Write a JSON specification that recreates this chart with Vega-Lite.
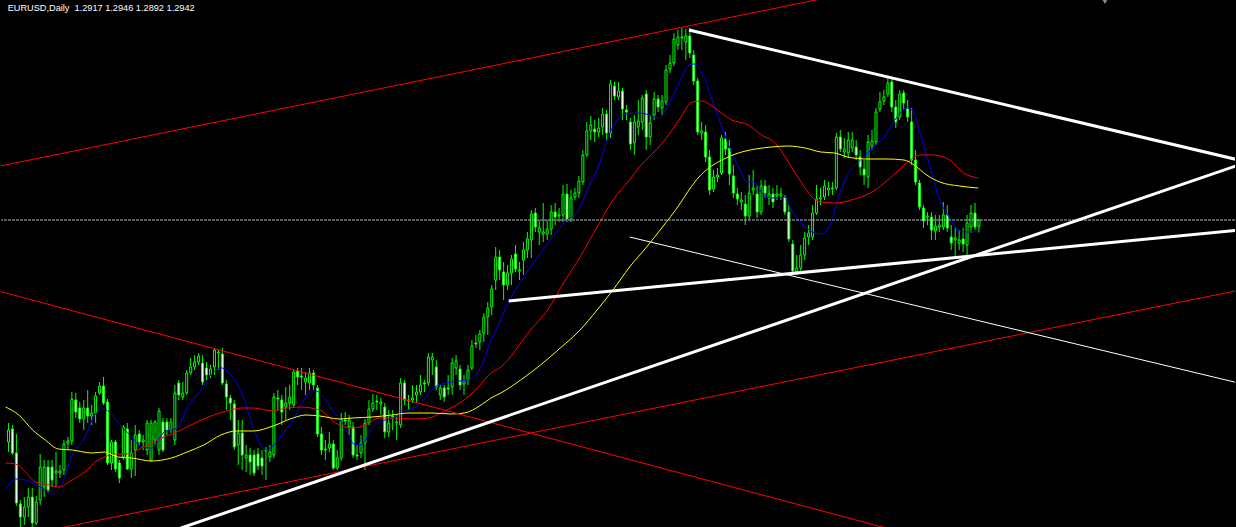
{
"$schema": "https://vega.github.io/schema/vega-lite/v6.json",
"width": 1236, "height": 527,
"autosize": {"type": "fit", "contains": "padding"},
"padding": 0,
"background": "#000000",
"config": {"view": {"stroke": null}},
"datasets": {
"bars": [
{"i":0,"o":1.2054,"h":1.2130,"l":1.2014,"c":1.2102},
{"i":1,"o":1.2106,"h":1.2122,"l":1.2002,"c":1.2010},
{"i":2,"o":1.2010,"h":1.2086,"l":1.1798,"c":1.1810},
{"i":3,"o":1.1806,"h":1.1822,"l":1.1714,"c":1.1754},
{"i":4,"o":1.1754,"h":1.1834,"l":1.1722,"c":1.1794},
{"i":5,"o":1.1794,"h":1.1870,"l":1.1754,"c":1.1834},
{"i":6,"o":1.1834,"h":1.1870,"l":1.1714,"c":1.1730},
{"i":7,"o":1.1730,"h":1.1838,"l":1.1722,"c":1.1814},
{"i":8,"o":1.1822,"h":1.2006,"l":1.1802,"c":1.1954},
{"i":9,"o":1.1874,"h":1.1982,"l":1.1834,"c":1.1954},
{"i":10,"o":1.1954,"h":1.1982,"l":1.1850,"c":1.1862},
{"i":11,"o":1.1954,"h":1.1982,"l":1.1874,"c":1.1902},
{"i":12,"o":1.1930,"h":1.2014,"l":1.1874,"c":1.1938},
{"i":13,"o":1.1930,"h":1.1962,"l":1.1910,"c":1.1938},
{"i":14,"o":1.1942,"h":1.2062,"l":1.1922,"c":1.2046},
{"i":15,"o":1.2050,"h":1.2074,"l":1.2022,"c":1.2058},
{"i":16,"o":1.2058,"h":1.2254,"l":1.2042,"c":1.2226},
{"i":17,"o":1.2222,"h":1.2250,"l":1.2150,"c":1.2174},
{"i":18,"o":1.2190,"h":1.2214,"l":1.2130,"c":1.2146},
{"i":19,"o":1.2146,"h":1.2222,"l":1.2102,"c":1.2190},
{"i":20,"o":1.2190,"h":1.2262,"l":1.2130,"c":1.2158},
{"i":21,"o":1.2158,"h":1.2202,"l":1.2122,"c":1.2170},
{"i":22,"o":1.2170,"h":1.2254,"l":1.2130,"c":1.2238},
{"i":23,"o":1.2250,"h":1.2294,"l":1.2242,"c":1.2278},
{"i":24,"o":1.2278,"h":1.2314,"l":1.2202,"c":1.2210},
{"i":25,"o":1.2214,"h":1.2226,"l":1.1962,"c":1.1970},
{"i":26,"o":1.1970,"h":1.2062,"l":1.1942,"c":1.2054},
{"i":27,"o":1.2054,"h":1.2062,"l":1.1934,"c":1.1946},
{"i":28,"o":1.1970,"h":1.1982,"l":1.1890,"c":1.1910},
{"i":29,"o":1.1994,"h":1.2122,"l":1.1982,"c":1.2114},
{"i":30,"o":1.2106,"h":1.2130,"l":1.1942,"c":1.1946},
{"i":31,"o":1.1946,"h":1.2062,"l":1.1910,"c":1.2010},
{"i":32,"o":1.2022,"h":1.2122,"l":1.1918,"c":1.2082},
{"i":33,"o":1.2086,"h":1.2102,"l":1.2042,"c":1.2054},
{"i":34,"o":1.2054,"h":1.2082,"l":1.2022,"c":1.2062},
{"i":35,"o":1.2022,"h":1.2142,"l":1.2002,"c":1.2130},
{"i":36,"o":1.1982,"h":1.2142,"l":1.1974,"c":1.2130},
{"i":37,"o":1.2062,"h":1.2142,"l":1.2042,"c":1.2134},
{"i":38,"o":1.2022,"h":1.2190,"l":1.2002,"c":1.2178},
{"i":39,"o":1.2134,"h":1.2150,"l":1.2014,"c":1.2022},
{"i":40,"o":1.2134,"h":1.2150,"l":1.2082,"c":1.2102},
{"i":41,"o":1.2102,"h":1.2150,"l":1.2090,"c":1.2134},
{"i":42,"o":1.2062,"h":1.2282,"l":1.2042,"c":1.2250},
{"i":43,"o":1.2290,"h":1.2302,"l":1.2222,"c":1.2242},
{"i":44,"o":1.2234,"h":1.2294,"l":1.2222,"c":1.2250},
{"i":45,"o":1.2250,"h":1.2342,"l":1.2242,"c":1.2330},
{"i":46,"o":1.2330,"h":1.2390,"l":1.2322,"c":1.2354},
{"i":47,"o":1.2354,"h":1.2402,"l":1.2342,"c":1.2374},
{"i":48,"o":1.2374,"h":1.2410,"l":1.2362,"c":1.2398},
{"i":49,"o":1.2370,"h":1.2402,"l":1.2282,"c":1.2294},
{"i":50,"o":1.2350,"h":1.2374,"l":1.2302,"c":1.2322},
{"i":51,"o":1.2322,"h":1.2362,"l":1.2310,"c":1.2346},
{"i":52,"o":1.2354,"h":1.2430,"l":1.2322,"c":1.2422},
{"i":53,"o":1.2410,"h":1.2422,"l":1.2342,"c":1.2414},
{"i":54,"o":1.2406,"h":1.2430,"l":1.2282,"c":1.2290},
{"i":55,"o":1.2286,"h":1.2302,"l":1.2182,"c":1.2234},
{"i":56,"o":1.2230,"h":1.2242,"l":1.2142,"c":1.2210},
{"i":57,"o":1.2206,"h":1.2222,"l":1.2022,"c":1.2034},
{"i":58,"o":1.2042,"h":1.2142,"l":1.1962,"c":1.2090},
{"i":59,"o":1.2090,"h":1.2142,"l":1.1942,"c":1.2002},
{"i":60,"o":1.1990,"h":1.2042,"l":1.1934,"c":1.2002},
{"i":61,"o":1.2002,"h":1.2030,"l":1.1922,"c":1.1974},
{"i":62,"o":1.2002,"h":1.2022,"l":1.1918,"c":1.1930},
{"i":63,"o":1.2006,"h":1.2030,"l":1.1942,"c":1.1958},
{"i":64,"o":1.1990,"h":1.2022,"l":1.1922,"c":1.1958},
{"i":65,"o":1.2018,"h":1.2034,"l":1.1902,"c":1.2022},
{"i":66,"o":1.1994,"h":1.2042,"l":1.1974,"c":1.2014},
{"i":67,"o":1.2002,"h":1.2250,"l":1.1990,"c":1.2234},
{"i":68,"o":1.2230,"h":1.2262,"l":1.2182,"c":1.2226},
{"i":69,"o":1.2222,"h":1.2242,"l":1.2122,"c":1.2174},
{"i":70,"o":1.2194,"h":1.2274,"l":1.2142,"c":1.2210},
{"i":71,"o":1.2210,"h":1.2282,"l":1.2182,"c":1.2234},
{"i":72,"o":1.2202,"h":1.2342,"l":1.2190,"c":1.2334},
{"i":73,"o":1.2338,"h":1.2350,"l":1.2282,"c":1.2314},
{"i":74,"o":1.2318,"h":1.2350,"l":1.2262,"c":1.2314},
{"i":75,"o":1.2294,"h":1.2334,"l":1.2242,"c":1.2310},
{"i":76,"o":1.2290,"h":1.2350,"l":1.2262,"c":1.2330},
{"i":77,"o":1.2330,"h":1.2342,"l":1.2262,"c":1.2282},
{"i":78,"o":1.2270,"h":1.2282,"l":1.2074,"c":1.2086},
{"i":79,"o":1.2086,"h":1.2114,"l":1.2002,"c":1.2022},
{"i":80,"o":1.2026,"h":1.2062,"l":1.1982,"c":1.2022},
{"i":81,"o":1.2030,"h":1.2094,"l":1.2014,"c":1.2046},
{"i":82,"o":1.2046,"h":1.2062,"l":1.1942,"c":1.1950},
{"i":83,"o":1.1950,"h":1.2022,"l":1.1942,"c":1.1990},
{"i":84,"o":1.1990,"h":1.2170,"l":1.1978,"c":1.2142},
{"i":85,"o":1.2142,"h":1.2174,"l":1.2122,"c":1.2138},
{"i":86,"o":1.2114,"h":1.2162,"l":1.2082,"c":1.2142},
{"i":87,"o":1.2114,"h":1.2134,"l":1.1990,"c":1.2002},
{"i":88,"o":1.2002,"h":1.2042,"l":1.1982,"c":1.1998},
{"i":89,"o":1.2010,"h":1.2082,"l":1.1990,"c":1.2050},
{"i":90,"o":1.2050,"h":1.2146,"l":1.1942,"c":1.2130},
{"i":91,"o":1.2130,"h":1.2222,"l":1.2122,"c":1.2186},
{"i":92,"o":1.2186,"h":1.2246,"l":1.2174,"c":1.2210},
{"i":93,"o":1.2218,"h":1.2242,"l":1.2182,"c":1.2214},
{"i":94,"o":1.2206,"h":1.2230,"l":1.2162,"c":1.2214},
{"i":95,"o":1.2194,"h":1.2210,"l":1.2070,"c":1.2094},
{"i":96,"o":1.2094,"h":1.2182,"l":1.2074,"c":1.2130},
{"i":97,"o":1.2158,"h":1.2182,"l":1.2102,"c":1.2154},
{"i":98,"o":1.2130,"h":1.2162,"l":1.2062,"c":1.2134},
{"i":99,"o":1.2122,"h":1.2310,"l":1.2110,"c":1.2290},
{"i":100,"o":1.2290,"h":1.2302,"l":1.2202,"c":1.2222},
{"i":101,"o":1.2222,"h":1.2242,"l":1.2182,"c":1.2218},
{"i":102,"o":1.2222,"h":1.2282,"l":1.2210,"c":1.2230},
{"i":103,"o":1.2242,"h":1.2282,"l":1.2210,"c":1.2254},
{"i":104,"o":1.2254,"h":1.2322,"l":1.2242,"c":1.2282},
{"i":105,"o":1.2290,"h":1.2302,"l":1.2254,"c":1.2286},
{"i":106,"o":1.2290,"h":1.2410,"l":1.2278,"c":1.2394},
{"i":107,"o":1.2382,"h":1.2410,"l":1.2322,"c":1.2394},
{"i":108,"o":1.2354,"h":1.2382,"l":1.2262,"c":1.2274},
{"i":109,"o":1.2242,"h":1.2282,"l":1.2222,"c":1.2270},
{"i":110,"o":1.2270,"h":1.2282,"l":1.2214,"c":1.2234},
{"i":111,"o":1.2270,"h":1.2322,"l":1.2242,"c":1.2266},
{"i":112,"o":1.2274,"h":1.2390,"l":1.2242,"c":1.2370},
{"i":113,"o":1.2350,"h":1.2402,"l":1.2322,"c":1.2378},
{"i":114,"o":1.2346,"h":1.2362,"l":1.2262,"c":1.2282},
{"i":115,"o":1.2286,"h":1.2322,"l":1.2242,"c":1.2298},
{"i":116,"o":1.2302,"h":1.2362,"l":1.2282,"c":1.2342},
{"i":117,"o":1.2350,"h":1.2462,"l":1.2342,"c":1.2438},
{"i":118,"o":1.2450,"h":1.2482,"l":1.2430,"c":1.2446},
{"i":119,"o":1.2454,"h":1.2502,"l":1.2422,"c":1.2486},
{"i":120,"o":1.2490,"h":1.2570,"l":1.2454,"c":1.2554},
{"i":121,"o":1.2554,"h":1.2614,"l":1.2482,"c":1.2590},
{"i":122,"o":1.2594,"h":1.2682,"l":1.2562,"c":1.2666},
{"i":123,"o":1.2702,"h":1.2834,"l":1.2662,"c":1.2794},
{"i":124,"o":1.2794,"h":1.2822,"l":1.2702,"c":1.2742},
{"i":125,"o":1.2734,"h":1.2774,"l":1.2622,"c":1.2682},
{"i":126,"o":1.2682,"h":1.2762,"l":1.2662,"c":1.2730},
{"i":127,"o":1.2730,"h":1.2802,"l":1.2682,"c":1.2786},
{"i":128,"o":1.2806,"h":1.2842,"l":1.2734,"c":1.2746},
{"i":129,"o":1.2738,"h":1.2774,"l":1.2702,"c":1.2742},
{"i":130,"o":1.2782,"h":1.2854,"l":1.2722,"c":1.2822},
{"i":131,"o":1.2822,"h":1.2894,"l":1.2790,"c":1.2866},
{"i":132,"o":1.2862,"h":1.2982,"l":1.2790,"c":1.2966},
{"i":133,"o":1.2970,"h":1.2990,"l":1.2894,"c":1.2914},
{"i":134,"o":1.2894,"h":1.2942,"l":1.2842,"c":1.2910},
{"i":135,"o":1.2886,"h":1.3010,"l":1.2854,"c":1.2894},
{"i":136,"o":1.2886,"h":1.2942,"l":1.2862,"c":1.2906},
{"i":137,"o":1.2906,"h":1.3002,"l":1.2882,"c":1.2974},
{"i":138,"o":1.2974,"h":1.3010,"l":1.2922,"c":1.2954},
{"i":139,"o":1.2958,"h":1.2990,"l":1.2934,"c":1.2962},
{"i":140,"o":1.2962,"h":1.3082,"l":1.2934,"c":1.3046},
{"i":141,"o":1.3046,"h":1.3086,"l":1.2934,"c":1.2946},
{"i":142,"o":1.2946,"h":1.3062,"l":1.2934,"c":1.3030},
{"i":143,"o":1.3034,"h":1.3070,"l":1.3022,"c":1.3050},
{"i":144,"o":1.3050,"h":1.3118,"l":1.3030,"c":1.3098},
{"i":145,"o":1.3094,"h":1.3222,"l":1.3082,"c":1.3202},
{"i":146,"o":1.3202,"h":1.3334,"l":1.3194,"c":1.3298},
{"i":147,"o":1.3298,"h":1.3358,"l":1.3262,"c":1.3322},
{"i":148,"o":1.3306,"h":1.3342,"l":1.3254,"c":1.3294},
{"i":149,"o":1.3294,"h":1.3350,"l":1.3274,"c":1.3310},
{"i":150,"o":1.3314,"h":1.3390,"l":1.3282,"c":1.3366},
{"i":151,"o":1.3366,"h":1.3382,"l":1.3262,"c":1.3290},
{"i":152,"o":1.3290,"h":1.3502,"l":1.3270,"c":1.3486},
{"i":153,"o":1.3478,"h":1.3494,"l":1.3422,"c":1.3438},
{"i":154,"o":1.3434,"h":1.3494,"l":1.3422,"c":1.3458},
{"i":155,"o":1.3458,"h":1.3470,"l":1.3342,"c":1.3386},
{"i":156,"o":1.3382,"h":1.3402,"l":1.3342,"c":1.3374},
{"i":157,"o":1.3334,"h":1.3350,"l":1.3222,"c":1.3246},
{"i":158,"o":1.3250,"h":1.3362,"l":1.3202,"c":1.3334},
{"i":159,"o":1.3314,"h":1.3422,"l":1.3282,"c":1.3338},
{"i":160,"o":1.3334,"h":1.3442,"l":1.3302,"c":1.3430},
{"i":161,"o":1.3446,"h":1.3462,"l":1.3222,"c":1.3274},
{"i":162,"o":1.3274,"h":1.3362,"l":1.3242,"c":1.3330},
{"i":163,"o":1.3362,"h":1.3454,"l":1.3342,"c":1.3426},
{"i":164,"o":1.3426,"h":1.3442,"l":1.3374,"c":1.3394},
{"i":165,"o":1.3390,"h":1.3442,"l":1.3362,"c":1.3418},
{"i":166,"o":1.3414,"h":1.3562,"l":1.3402,"c":1.3542},
{"i":167,"o":1.3546,"h":1.3602,"l":1.3530,"c":1.3570},
{"i":168,"o":1.3570,"h":1.3690,"l":1.3558,"c":1.3666},
{"i":169,"o":1.3642,"h":1.3702,"l":1.3622,"c":1.3674},
{"i":170,"o":1.3670,"h":1.3710,"l":1.3622,"c":1.3674},
{"i":171,"o":1.3654,"h":1.3706,"l":1.3582,"c":1.3678},
{"i":172,"o":1.3678,"h":1.3710,"l":1.3590,"c":1.3610},
{"i":173,"o":1.3602,"h":1.3622,"l":1.3482,"c":1.3498},
{"i":174,"o":1.3498,"h":1.3510,"l":1.3282,"c":1.3294},
{"i":175,"o":1.3290,"h":1.3334,"l":1.3262,"c":1.3298},
{"i":176,"o":1.3294,"h":1.3322,"l":1.3174,"c":1.3194},
{"i":177,"o":1.3194,"h":1.3222,"l":1.3042,"c":1.3062},
{"i":178,"o":1.3066,"h":1.3142,"l":1.3054,"c":1.3114},
{"i":179,"o":1.3114,"h":1.3150,"l":1.3094,"c":1.3122},
{"i":180,"o":1.3130,"h":1.3282,"l":1.3122,"c":1.3270},
{"i":181,"o":1.3266,"h":1.3294,"l":1.3202,"c":1.3226},
{"i":182,"o":1.3230,"h":1.3262,"l":1.3082,"c":1.3126},
{"i":183,"o":1.3118,"h":1.3162,"l":1.3030,"c":1.3050},
{"i":184,"o":1.3046,"h":1.3070,"l":1.3002,"c":1.3026},
{"i":185,"o":1.3014,"h":1.3054,"l":1.2982,"c":1.3022},
{"i":186,"o":1.3006,"h":1.3042,"l":1.2922,"c":1.2958},
{"i":187,"o":1.2958,"h":1.3122,"l":1.2942,"c":1.3050},
{"i":188,"o":1.3062,"h":1.3142,"l":1.3042,"c":1.3070},
{"i":189,"o":1.3046,"h":1.3082,"l":1.2950,"c":1.2974},
{"i":190,"o":1.2974,"h":1.3102,"l":1.2962,"c":1.3078},
{"i":191,"o":1.3078,"h":1.3102,"l":1.3030,"c":1.3050},
{"i":192,"o":1.3030,"h":1.3082,"l":1.3002,"c":1.3046},
{"i":193,"o":1.3046,"h":1.3070,"l":1.2990,"c":1.3014},
{"i":194,"o":1.3038,"h":1.3082,"l":1.3022,"c":1.3046},
{"i":195,"o":1.3038,"h":1.3070,"l":1.3022,"c":1.3046},
{"i":196,"o":1.3034,"h":1.3042,"l":1.2962,"c":1.2974},
{"i":197,"o":1.2974,"h":1.3002,"l":1.2854,"c":1.2866},
{"i":198,"o":1.2846,"h":1.2862,"l":1.2722,"c":1.2738},
{"i":199,"o":1.2734,"h":1.2802,"l":1.2722,"c":1.2750},
{"i":200,"o":1.2750,"h":1.2842,"l":1.2734,"c":1.2802},
{"i":201,"o":1.2802,"h":1.2894,"l":1.2782,"c":1.2870},
{"i":202,"o":1.2874,"h":1.2922,"l":1.2842,"c":1.2890},
{"i":203,"o":1.2874,"h":1.3002,"l":1.2862,"c":1.2970},
{"i":204,"o":1.2970,"h":1.3082,"l":1.2962,"c":1.3026},
{"i":205,"o":1.3026,"h":1.3070,"l":1.3002,"c":1.3030},
{"i":206,"o":1.3034,"h":1.3102,"l":1.3022,"c":1.3078},
{"i":207,"o":1.3062,"h":1.3094,"l":1.3038,"c":1.3070},
{"i":208,"o":1.3066,"h":1.3094,"l":1.3042,"c":1.3070},
{"i":209,"o":1.3070,"h":1.3290,"l":1.3062,"c":1.3274},
{"i":210,"o":1.3274,"h":1.3302,"l":1.3214,"c":1.3226},
{"i":211,"o":1.3214,"h":1.3270,"l":1.3190,"c":1.3226},
{"i":212,"o":1.3210,"h":1.3294,"l":1.3190,"c":1.3262},
{"i":213,"o":1.3230,"h":1.3294,"l":1.3214,"c":1.3262},
{"i":214,"o":1.3234,"h":1.3262,"l":1.3182,"c":1.3202},
{"i":215,"o":1.3194,"h":1.3222,"l":1.3122,"c":1.3154},
{"i":216,"o":1.3146,"h":1.3182,"l":1.3082,"c":1.3122},
{"i":217,"o":1.3114,"h":1.3282,"l":1.3070,"c":1.3254},
{"i":218,"o":1.3238,"h":1.3302,"l":1.3222,"c":1.3258},
{"i":219,"o":1.3254,"h":1.3390,"l":1.3242,"c":1.3374},
{"i":220,"o":1.3386,"h":1.3454,"l":1.3374,"c":1.3414},
{"i":221,"o":1.3418,"h":1.3462,"l":1.3402,"c":1.3434},
{"i":222,"o":1.3446,"h":1.3510,"l":1.3434,"c":1.3490},
{"i":223,"o":1.3494,"h":1.3510,"l":1.3374,"c":1.3394},
{"i":224,"o":1.3394,"h":1.3422,"l":1.3310,"c":1.3334},
{"i":225,"o":1.3354,"h":1.3462,"l":1.3342,"c":1.3446},
{"i":226,"o":1.3450,"h":1.3462,"l":1.3382,"c":1.3410},
{"i":227,"o":1.3390,"h":1.3422,"l":1.3334,"c":1.3354},
{"i":228,"o":1.3334,"h":1.3390,"l":1.3162,"c":1.3182},
{"i":229,"o":1.3182,"h":1.3222,"l":1.3082,"c":1.3094},
{"i":230,"o":1.3090,"h":1.3102,"l":1.2982,"c":1.2994},
{"i":231,"o":1.2990,"h":1.3002,"l":1.2910,"c":1.2938},
{"i":232,"o":1.2954,"h":1.2974,"l":1.2922,"c":1.2958},
{"i":233,"o":1.2954,"h":1.2974,"l":1.2862,"c":1.2902},
{"i":234,"o":1.2898,"h":1.2962,"l":1.2862,"c":1.2918},
{"i":235,"o":1.2914,"h":1.2962,"l":1.2894,"c":1.2922},
{"i":236,"o":1.2914,"h":1.3014,"l":1.2902,"c":1.2962},
{"i":237,"o":1.2962,"h":1.3002,"l":1.2894,"c":1.2910},
{"i":238,"o":1.2874,"h":1.2922,"l":1.2822,"c":1.2850},
{"i":239,"o":1.2862,"h":1.2910,"l":1.2790,"c":1.2870},
{"i":240,"o":1.2850,"h":1.2902,"l":1.2822,"c":1.2862},
{"i":241,"o":1.2866,"h":1.2910,"l":1.2814,"c":1.2846},
{"i":242,"o":1.2842,"h":1.2962,"l":1.2802,"c":1.2930},
{"i":243,"o":1.2914,"h":1.3002,"l":1.2890,"c":1.2970},
{"i":244,"o":1.2970,"h":1.3010,"l":1.2902,"c":1.2914},
{"i":245,"o":1.2917,"h":1.2946,"l":1.2892,"c":1.2942}
],
"ma": [
{"k":"fast","i":-0.7,"v":1.1866},{"k":"fast","i":1.8,"v":1.1906},{"k":"fast","i":4.3,"v":1.1902},{"k":"fast","i":7.6,"v":1.1878},{"k":"fast","i":11.1,"v":1.1846},{"k":"fast","i":13.1,"v":1.1874},{"k":"fast","i":16.1,"v":1.2002},{"k":"fast","i":19.3,"v":1.2074},{"k":"fast","i":21.8,"v":1.2162},{"k":"fast","i":23.8,"v":1.2186},{"k":"fast","i":25.1,"v":1.2178},{"k":"fast","i":28.6,"v":1.2114},{"k":"fast","i":31.1,"v":1.2074},{"k":"fast","i":33.6,"v":1.2034},{"k":"fast","i":36.1,"v":1.2030},{"k":"fast","i":39.3,"v":1.2094},{"k":"fast","i":42.6,"v":1.2110},{"k":"fast","i":45.1,"v":1.2190},{"k":"fast","i":48.6,"v":1.2262},{"k":"fast","i":51.1,"v":1.2322},{"k":"fast","i":53.8,"v":1.2350},{"k":"fast","i":56.1,"v":1.2322},{"k":"fast","i":59.3,"v":1.2234},{"k":"fast","i":61.8,"v":1.2110},{"k":"fast","i":65.1,"v":1.2022},{"k":"fast","i":68.6,"v":1.2074},{"k":"fast","i":71.8,"v":1.2142},{"k":"fast","i":75.1,"v":1.2234},{"k":"fast","i":76.8,"v":1.2262},{"k":"fast","i":78.6,"v":1.2250},{"k":"fast","i":81.8,"v":1.2182},{"k":"fast","i":84.3,"v":1.2130},{"k":"fast","i":87.6,"v":1.2042},{"k":"fast","i":89.3,"v":1.2046},{"k":"fast","i":91.8,"v":1.2110},{"k":"fast","i":95.1,"v":1.2142},{"k":"fast","i":97.6,"v":1.2154},{"k":"fast","i":100.1,"v":1.2178},{"k":"fast","i":103.6,"v":1.2202},{"k":"fast","i":107.6,"v":1.2274},{"k":"fast","i":111.8,"v":1.2294},{"k":"fast","i":116.1,"v":1.2302},{"k":"fast","i":120.1,"v":1.2382},{"k":"fast","i":121.8,"v":1.2462},{"k":"fast","i":123.1,"v":1.2502},{"k":"fast","i":126.1,"v":1.2610},{"k":"fast","i":130.1,"v":1.2714},{"k":"fast","i":133.6,"v":1.2794},{"k":"fast","i":136.8,"v":1.2862},{"k":"fast","i":141.1,"v":1.2942},{"k":"fast","i":143.6,"v":1.2970},{"k":"fast","i":146.1,"v":1.3062},{"k":"fast","i":148.6,"v":1.3142},{"k":"fast","i":151.8,"v":1.3290},{"k":"fast","i":155.1,"v":1.3362},{"k":"fast","i":159.3,"v":1.3370},{"k":"fast","i":161.8,"v":1.3362},{"k":"fast","i":164.3,"v":1.3350},{"k":"fast","i":166.8,"v":1.3410},{"k":"fast","i":169.3,"v":1.3490},{"k":"fast","i":171.8,"v":1.3562},{"k":"fast","i":173.1,"v":1.3566},{"k":"fast","i":175.1,"v":1.3530},{"k":"fast","i":177.6,"v":1.3422},{"k":"fast","i":180.1,"v":1.3314},{"k":"fast","i":182.6,"v":1.3210},{"k":"fast","i":185.1,"v":1.3130},{"k":"fast","i":186.3,"v":1.3094},{"k":"fast","i":188.1,"v":1.3094},{"k":"fast","i":191.1,"v":1.3034},{"k":"fast","i":193.6,"v":1.3030},{"k":"fast","i":196.1,"v":1.3034},{"k":"fast","i":197.6,"v":1.2982},{"k":"fast","i":200.1,"v":1.2930},{"k":"fast","i":203.6,"v":1.2890},{"k":"fast","i":205.1,"v":1.2886},{"k":"fast","i":207.6,"v":1.2930},{"k":"fast","i":209.3,"v":1.3022},{"k":"fast","i":211.8,"v":1.3122},{"k":"fast","i":215.1,"v":1.3182},{"k":"fast","i":218.6,"v":1.3234},{"k":"fast","i":221.8,"v":1.3290},{"k":"fast","i":224.3,"v":1.3354},{"k":"fast","i":226.8,"v":1.3390},{"k":"fast","i":228.1,"v":1.3382},{"k":"fast","i":230.1,"v":1.3290},{"k":"fast","i":232.6,"v":1.3154},{"k":"fast","i":235.1,"v":1.3022},{"k":"fast","i":237.6,"v":1.2950},{"k":"fast","i":240.1,"v":1.2898},{"k":"fast","i":242.6,"v":1.2894},{"k":"fast","i":244.8,"v":1.2898},
{"k":"medium","i":-0.7,"v":1.1970},{"k":"medium","i":1.8,"v":1.1966},{"k":"medium","i":4.3,"v":1.1934},{"k":"medium","i":6.8,"v":1.1894},{"k":"medium","i":9.3,"v":1.1886},{"k":"medium","i":12.6,"v":1.1874},{"k":"medium","i":16.1,"v":1.1902},{"k":"medium","i":19.3,"v":1.1934},{"k":"medium","i":22.6,"v":1.1982},{"k":"medium","i":24.3,"v":1.1994},{"k":"medium","i":26.8,"v":1.2006},{"k":"medium","i":31.1,"v":1.2006},{"k":"medium","i":32.6,"v":1.2022},{"k":"medium","i":36.1,"v":1.2050},{"k":"medium","i":39.3,"v":1.2074},{"k":"medium","i":43.6,"v":1.2102},{"k":"medium","i":47.6,"v":1.2134},{"k":"medium","i":51.8,"v":1.2162},{"k":"medium","i":56.1,"v":1.2182},{"k":"medium","i":58.6,"v":1.2190},{"k":"medium","i":61.8,"v":1.2190},{"k":"medium","i":66.8,"v":1.2178},{"k":"medium","i":70.1,"v":1.2190},{"k":"medium","i":73.6,"v":1.2194},{"k":"medium","i":78.6,"v":1.2182},{"k":"medium","i":82.6,"v":1.2130},{"k":"medium","i":86.8,"v":1.2110},{"k":"medium","i":90.1,"v":1.2122},{"k":"medium","i":93.6,"v":1.2150},{"k":"medium","i":97.6,"v":1.2150},{"k":"medium","i":101.8,"v":1.2146},{"k":"medium","i":106.1,"v":1.2150},{"k":"medium","i":110.1,"v":1.2178},{"k":"medium","i":114.3,"v":1.2214},{"k":"medium","i":118.6,"v":1.2274},{"k":"medium","i":121.8,"v":1.2330},{"k":"medium","i":124.3,"v":1.2354},{"k":"medium","i":131.8,"v":1.2502},{"k":"medium","i":136.1,"v":1.2582},{"k":"medium","i":140.1,"v":1.2690},{"k":"medium","i":144.3,"v":1.2794},{"k":"medium","i":148.6,"v":1.2914},{"k":"medium","i":152.6,"v":1.3022},{"k":"medium","i":156.8,"v":1.3102},{"k":"medium","i":159.3,"v":1.3154},{"k":"medium","i":165.1,"v":1.3250},{"k":"medium","i":169.3,"v":1.3342},{"k":"medium","i":172.6,"v":1.3414},{"k":"medium","i":175.1,"v":1.3418},{"k":"medium","i":177.6,"v":1.3398},{"k":"medium","i":182.6,"v":1.3342},{"k":"medium","i":186.8,"v":1.3322},{"k":"medium","i":190.1,"v":1.3282},{"k":"medium","i":193.6,"v":1.3250},{"k":"medium","i":196.1,"v":1.3194},{"k":"medium","i":198.6,"v":1.3130},{"k":"medium","i":201.1,"v":1.3070},{"k":"medium","i":203.1,"v":1.3030},{"k":"medium","i":205.1,"v":1.3014},{"k":"medium","i":208.6,"v":1.3010},{"k":"medium","i":213.6,"v":1.3026},{"k":"medium","i":217.6,"v":1.3050},{"k":"medium","i":221.1,"v":1.3090},{"k":"medium","i":224.3,"v":1.3134},{"k":"medium","i":227.6,"v":1.3182},{"k":"medium","i":230.1,"v":1.3202},{"k":"medium","i":233.6,"v":1.3202},{"k":"medium","i":237.6,"v":1.3182},{"k":"medium","i":241.1,"v":1.3130},{"k":"medium","i":244.8,"v":1.3110},
{"k":"slow","i":-0.7,"v":1.2194},{"k":"slow","i":2.6,"v":1.2162},{"k":"slow","i":6.1,"v":1.2102},{"k":"slow","i":9.3,"v":1.2062},{"k":"slow","i":12.6,"v":1.2026},{"k":"slow","i":16.1,"v":1.2022},{"k":"slow","i":21.1,"v":1.2010},{"k":"slow","i":24.3,"v":1.2014},{"k":"slow","i":27.6,"v":1.1994},{"k":"slow","i":31.1,"v":1.1990},{"k":"slow","i":36.1,"v":1.1978},{"k":"slow","i":41.1,"v":1.1990},{"k":"slow","i":45.1,"v":1.2014},{"k":"slow","i":49.3,"v":1.2042},{"k":"slow","i":53.6,"v":1.2082},{"k":"slow","i":57.6,"v":1.2098},{"k":"slow","i":61.8,"v":1.2098},{"k":"slow","i":66.8,"v":1.2118},{"k":"slow","i":71.8,"v":1.2150},{"k":"slow","i":75.1,"v":1.2162},{"k":"slow","i":78.6,"v":1.2158},{"k":"slow","i":83.6,"v":1.2146},{"k":"slow","i":86.8,"v":1.2150},{"k":"slow","i":91.8,"v":1.2154},{"k":"slow","i":96.8,"v":1.2162},{"k":"slow","i":101.1,"v":1.2170},{"k":"slow","i":106.8,"v":1.2170},{"k":"slow","i":111.8,"v":1.2166},{"k":"slow","i":115.1,"v":1.2170},{"k":"slow","i":119.3,"v":1.2202},{"k":"slow","i":121.8,"v":1.2230},{"k":"slow","i":124.3,"v":1.2250},{"k":"slow","i":129.3,"v":1.2302},{"k":"slow","i":134.3,"v":1.2362},{"k":"slow","i":139.3,"v":1.2430},{"k":"slow","i":144.3,"v":1.2502},{"k":"slow","i":148.6,"v":1.2582},{"k":"slow","i":152.6,"v":1.2662},{"k":"slow","i":156.8,"v":1.2754},{"k":"slow","i":161.1,"v":1.2834},{"k":"slow","i":165.1,"v":1.2914},{"k":"slow","i":169.3,"v":1.3002},{"k":"slow","i":171.8,"v":1.3062},{"k":"slow","i":174.3,"v":1.3114},{"k":"slow","i":176.8,"v":1.3150},{"k":"slow","i":180.1,"v":1.3182},{"k":"slow","i":184.3,"v":1.3210},{"k":"slow","i":188.6,"v":1.3226},{"k":"slow","i":192.6,"v":1.3234},{"k":"slow","i":196.8,"v":1.3238},{"k":"slow","i":201.1,"v":1.3230},{"k":"slow","i":205.1,"v":1.3214},{"k":"slow","i":208.6,"v":1.3210},{"k":"slow","i":211.8,"v":1.3194},{"k":"slow","i":216.8,"v":1.3186},{"k":"slow","i":221.8,"v":1.3186},{"k":"slow","i":226.1,"v":1.3182},{"k":"slow","i":228.6,"v":1.3162},{"k":"slow","i":231.8,"v":1.3122},{"k":"slow","i":235.1,"v":1.3094},{"k":"slow","i":240.1,"v":1.3078},{"k":"slow","i":244.8,"v":1.3070}
],
"lines": [
{"id":"c1","g":"channel","i":-3,"p":1.3155},{"id":"c1","g":"channel","i":206,"p":1.3829},
{"id":"c2","g":"channel","i":13,"p":1.1710},{"id":"c2","g":"channel","i":310,"p":1.2659},
{"id":"c3","g":"channel","i":-3,"p":1.2660},{"id":"c3","g":"channel","i":222,"p":1.1708},
{"id":"t1","g":"trend","i":43,"p":1.1707},{"id":"t1","g":"trend","i":310,"p":1.3159},
{"id":"t2","g":"trend","i":126.3,"p":1.2618},{"id":"t2","g":"trend","i":310,"p":1.2901},
{"id":"t3","g":"trend","i":171.8,"p":1.3702},{"id":"t3","g":"trend","i":310,"p":1.3184},
{"id":"g1","g":"guide","i":156.8,"p":1.2874},{"id":"g1","g":"guide","i":310,"p":1.2292}
]
},
"layer": [
{"data":{"name":"bars"},
 "mark":{"type":"rule","color":"#00ff00","strokeWidth":1,"clip":true},
 "encoding":{
  "x":{"field":"i","type":"quantitative","scale":{"domain":[-0.625,308.375],"nice":false,"zero":false},"axis":null},
  "y":{"field":"l","type":"quantitative","scale":{"domain":[1.1714,1.3822],"nice":false,"zero":false},"axis":null},
  "y2":{"field":"h"}}},
{"data":{"name":"bars"},
 "mark":{"type":"bar","width":2,"stroke":"#00ff00","strokeWidth":1,"clip":true},
 "encoding":{
  "x":{"field":"i","type":"quantitative","scale":{"domain":[-0.625,308.375],"nice":false,"zero":false},"axis":null},
  "y":{"field":"o","type":"quantitative","scale":{"domain":[1.1714,1.3822],"nice":false,"zero":false},"axis":null},
  "y2":{"field":"c"},
  "fill":{"condition":{"test":"datum.c > datum.o","value":"#000000"},"value":"#ffffff"}}},
{"data":{"name":"ma"},
 "mark":{"type":"line","strokeWidth":1,"clip":true,"interpolate":"monotone"},
 "encoding":{
  "x":{"field":"i","type":"quantitative","scale":{"domain":[-0.625,308.375],"nice":false,"zero":false},"axis":null},
  "y":{"field":"v","type":"quantitative","scale":{"domain":[1.1714,1.3822],"nice":false,"zero":false},"axis":null},
  "color":{"field":"k","type":"nominal","scale":{"domain":["fast","medium","slow"],"range":["#0000ff","#ff0000","#ffff00"]},"legend":null}}},
{"data":{"values":[{}]},
 "mark":{"type":"rule","color":"#a8b8b8","strokeWidth":1,"strokeDash":[3,1]},
 "encoding":{
  "y":{"datum":1.2942,"type":"quantitative","scale":{"domain":[1.1714,1.3822],"nice":false,"zero":false},"axis":null}}},
{"data":{"name":"lines"},
 "transform":[{"filter":"datum.g == 'channel'"}],
 "mark":{"type":"line","color":"#ff0000","strokeWidth":1,"clip":true},
 "encoding":{
  "x":{"field":"i","type":"quantitative","scale":{"domain":[-0.625,308.375],"nice":false,"zero":false},"axis":null},
  "y":{"field":"p","type":"quantitative","scale":{"domain":[1.1714,1.3822],"nice":false,"zero":false},"axis":null},
  "detail":{"field":"id","type":"nominal"}}},
{"data":{"name":"lines"},
 "transform":[{"filter":"datum.g == 'guide'"}],
 "mark":{"type":"line","color":"#ffffff","strokeWidth":1,"clip":true},
 "encoding":{
  "x":{"field":"i","type":"quantitative","scale":{"domain":[-0.625,308.375],"nice":false,"zero":false},"axis":null},
  "y":{"field":"p","type":"quantitative","scale":{"domain":[1.1714,1.3822],"nice":false,"zero":false},"axis":null},
  "detail":{"field":"id","type":"nominal"}}},
{"data":{"name":"lines"},
 "transform":[{"filter":"datum.g == 'trend'"}],
 "mark":{"type":"line","color":"#ffffff","strokeWidth":3,"clip":true},
 "encoding":{
  "x":{"field":"i","type":"quantitative","scale":{"domain":[-0.625,308.375],"nice":false,"zero":false},"axis":null},
  "y":{"field":"p","type":"quantitative","scale":{"domain":[1.1714,1.3822],"nice":false,"zero":false},"axis":null},
  "detail":{"field":"id","type":"nominal"}}},
{"data":{"values":[{}]},
 "mark":{"type":"point","shape":"triangle-down","filled":true,"color":"#7c8c9c","opacity":1,"size":70,"clip":true},
 "encoding":{
  "x":{"datum":276.8,"type":"quantitative","scale":{"domain":[-0.625,308.375],"nice":false,"zero":false},"axis":null},
  "y":{"datum":1.3820,"type":"quantitative","scale":{"domain":[1.1714,1.3822],"nice":false,"zero":false},"axis":null}}},
{"data":{"values":[{}]},
 "mark":{"type":"text","text":"EURUSD,Daily\u00a0 1.2917 1.2946 1.2892 1.2942","align":"left","baseline":"top","color":"#ffffff","font":"Liberation Sans","fontSize":9.2},
 "encoding":{
  "x":{"datum":-0.2,"type":"quantitative","scale":{"domain":[-0.625,308.375],"nice":false,"zero":false},"axis":null},
  "y":{"datum":1.3806,"type":"quantitative","scale":{"domain":[1.1714,1.3822],"nice":false,"zero":false},"axis":null}}}
]
}
